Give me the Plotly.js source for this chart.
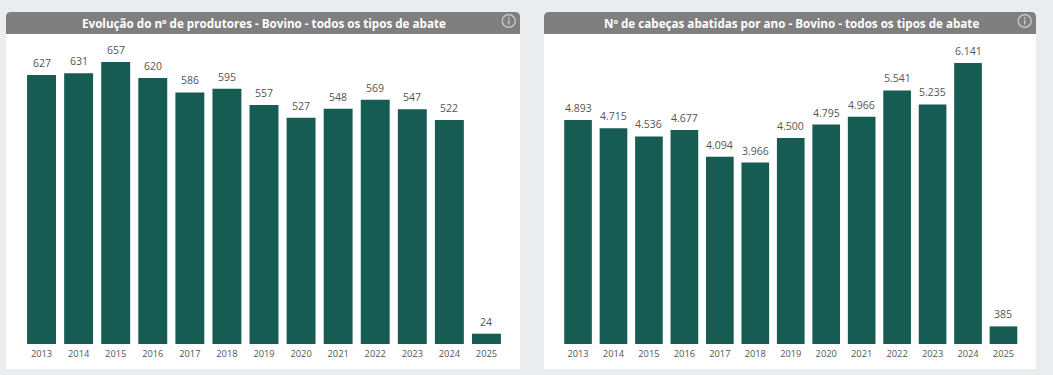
<!DOCTYPE html>
<html><head><meta charset="utf-8">
<script src="https://cdn.plot.ly/plotly-3.0.1.min.js"></script>
<style>html,body{margin:0;padding:0;background:#ebecee}#c{width:1053px;height:375px}</style>
</head><body><div id="c"></div>
<script>
const years = ['2013','2014','2015','2016','2017','2018','2019','2020','2021','2022','2023','2024','2025'];
const produtores = [627,631,657,620,586,595,557,527,548,569,547,522,24];
const cabecas = [4893,4715,4536,4677,4094,3966,4500,4795,4966,5541,5235,6141,385];
const tituloEsq = 'Evolução do nº de produtores - Bovino - todos os tipos de abate';
const tituloDir = 'Nº de cabeças abatidas por ano - Bovino - todos os tipos de abate';

const W = 1053, H = 375;
const px = v => v / W, py = v => 1 - v / H;
const FONT = '"Open Sans", "Noto Sans", sans-serif';
const GREEN = '#175c53', GREY = '#7f7f7f', TXT = '#555555', ICON = '#cfcfcf';

function bar(x, y, xa, ya) {
  return {type:'bar', x, y, xaxis:xa, yaxis:ya, marker:{color:GREEN},
    hoverinfo:'x+y', showlegend:false};
}
// On a category axis an annotation's x is the category's serial number.
function labels(x, y, xa, ya) {
  return x.map((c, i) => ({text:y[i].toLocaleString('pt-BR'), x:i, y:y[i], xref:xa, yref:ya,
    xanchor:'center', yanchor:'bottom', yshift:3, showarrow:false,
    font:{family:FONT,size:10.5,color:TXT}}));
}
function panelShapes(l, r, t, hb, b) {
  const rx = 5/W, ry = 5/H;
  const xl = px(l), xr = px(r), yt = py(t), yh = py(hb);
  return [
    {type:'rect', xref:'paper', yref:'paper', x0:xl, x1:xr, y0:py(b), y1:yh, fillcolor:'#ffffff', line:{width:0}, layer:'below'},
    {type:'path', xref:'paper', yref:'paper', layer:'below', fillcolor:GREY, line:{width:0},
     path:`M ${xl} ${yh} L ${xl} ${yt-ry} Q ${xl} ${yt} ${xl+rx} ${yt} L ${xr-rx} ${yt} Q ${xr} ${yt} ${xr} ${yt-ry} L ${xr} ${yh} Z`},
    {type:'circle', xref:'paper', yref:'paper', x0:px(r-17.8), x1:px(r-4.7), y0:py(27.3), y1:py(14.7), line:{color:ICON,width:1.2}, fillcolor:'rgba(0,0,0,0)'},
    {type:'line', xref:'paper', yref:'paper', x0:px(r-11.2), x1:px(r-11.2), y0:py(24.5), y1:py(20), line:{color:ICON,width:1.3}},
    {type:'line', xref:'paper', yref:'paper', x0:px(r-11.2), x1:px(r-11.2), y0:py(19), y1:py(17.2), line:{color:ICON,width:1.3}}
  ];
}
function title(text, cx) {
  return {text:`<b>${text}</b>`, xref:'paper', yref:'paper', x:px(cx), y:py(23), xanchor:'center', yanchor:'middle',
    showarrow:false, font:{family:FONT,size:11.65,color:'#ffffff'}};
}
const xaxisBase = {type:'category', categoryorder:'array', categoryarray:years, range:[-0.5, years.length-0.5],
  showgrid:false, zeroline:false, showline:false, ticks:'',
  tickfont:{family:FONT,size:9.3,color:TXT}, tickangle:0, ticklabelstandoff:3, automargin:false};
const yaxisBase = {showgrid:false, zeroline:false, showline:false, showticklabels:false, ticks:'', automargin:false, fixedrange:true};

const baseY = 344;
const layout = {
  width:W, height:H, margin:{l:0,r:0,t:0,b:0}, autosize:false,
  paper_bgcolor:'#ebecee', plot_bgcolor:'rgba(0,0,0,0)',
  bargap:0.22, showlegend:false,
  xaxis:Object.assign({}, xaxisBase, {domain:[px(23), px(505)], anchor:'y'}),
  yaxis:Object.assign({}, yaxisBase, {domain:[py(baseY), py(baseY-700*0.4292)], range:[0,700], anchor:'x'}),
  xaxis2:Object.assign({}, xaxisBase, {domain:[px(560.3), px(1021.2)], anchor:'y2'}),
  yaxis2:Object.assign({}, yaxisBase, {domain:[py(baseY), py(baseY-6500*0.04576)], range:[0,6500], anchor:'x2'}),
  shapes:[...panelShapes(6,520,12,34,369), ...panelShapes(544,1036,12,34,369)],
  annotations:[title(tituloEsq,264), title(tituloDir,791), ...labels(years,produtores,'x','y'), ...labels(years,cabecas,'x2','y2')]
};
Plotly.newPlot('c', [bar(years,produtores,'x','y'), bar(years,cabecas,'x2','y2')], layout, {displayModeBar:false, staticPlot:true});
</script></body></html>
